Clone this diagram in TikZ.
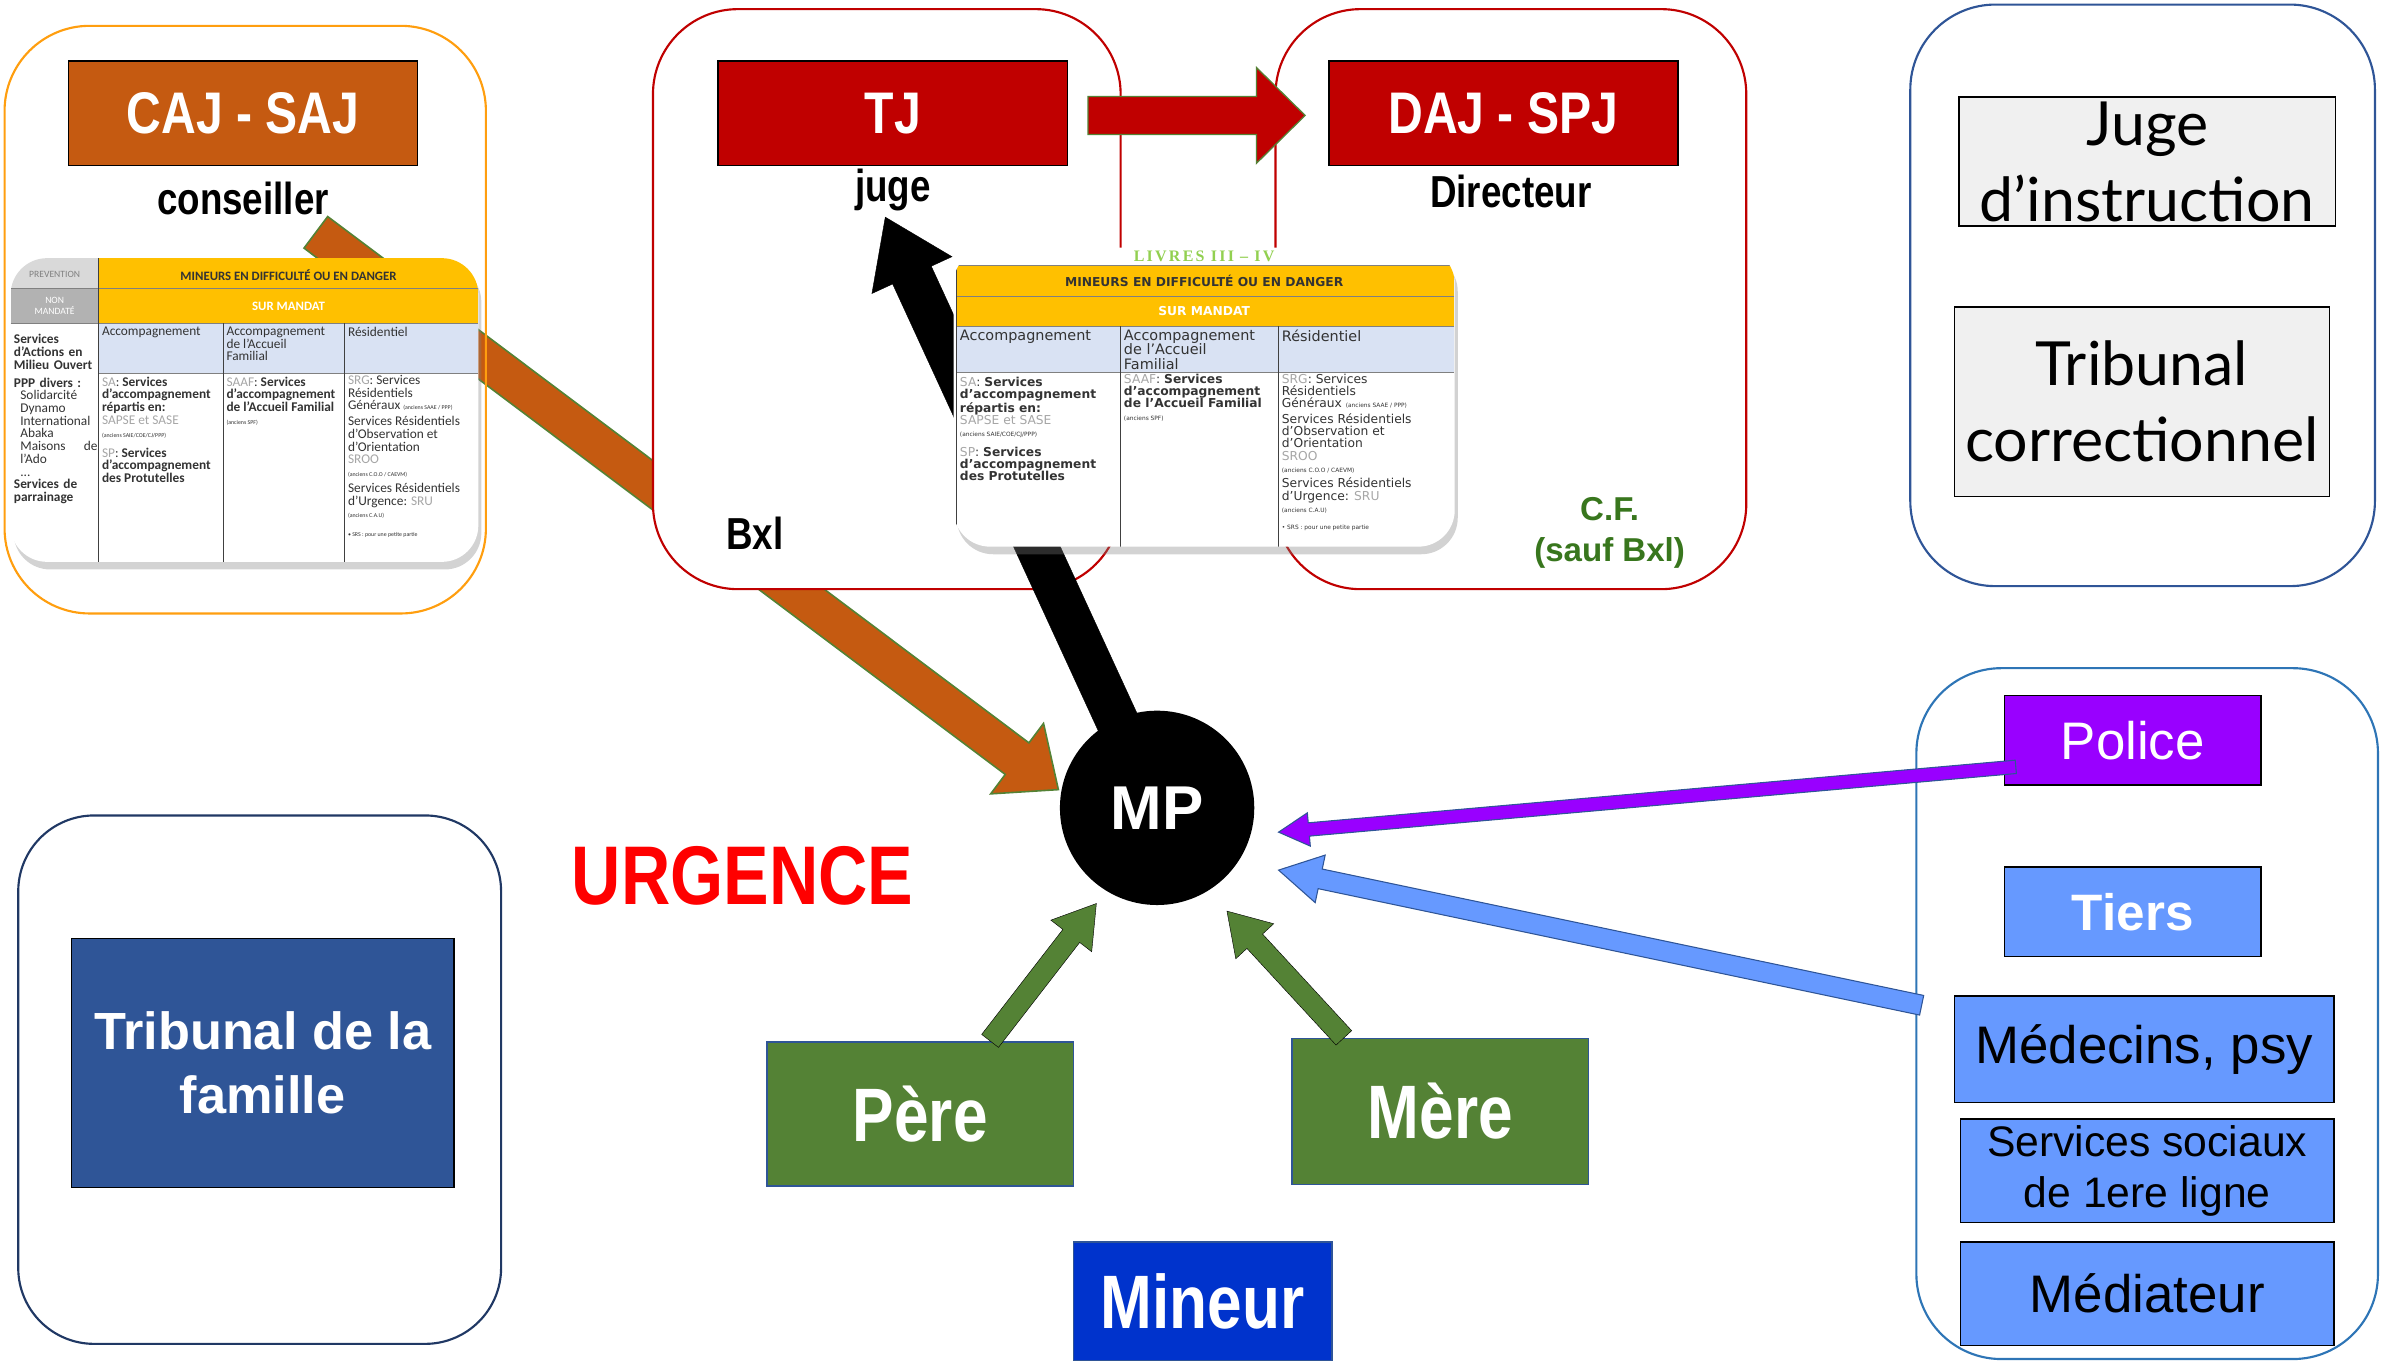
\documentclass[tikz,border=0pt]{standalone}
\usepackage{fontspec}
\setmainfont{Liberation Sans}
\newfontfamily\narrowfont[FakeStretch=0.82]{Liberation Sans}
\newfontfamily\gillfont{Lato}
\newfontfamily\tabfont{Carlito}
\newfontfamily\tabwidefont{DejaVu Sans}
\newfontfamily\livresfont[LetterSpace=14]{Liberation Serif}
\usetikzlibrary{calc,positioning,shadows}
\hyphenpenalty=10000

\definecolor{cajbrown}{HTML}{C55A11}
\definecolor{cajline}{HTML}{FF9E0F}
\definecolor{tjred}{HTML}{C00000}
\definecolor{arrowgreen}{HTML}{548235}
\definecolor{cfgreen}{HTML}{38761D}
\definecolor{navy}{HTML}{2F5597}
\definecolor{darknavy}{HTML}{203864}
\definecolor{skyline}{HTML}{2E75B6}
\definecolor{tiersblue}{HTML}{6699FF}
\definecolor{policeviolet}{HTML}{9900FF}
\definecolor{mineurblue}{HTML}{0033CC}
\definecolor{boxgray}{HTML}{F0F0F0}
\definecolor{urgred}{HTML}{FF0000}
\definecolor{tabyellow}{HTML}{FFC000}
\definecolor{tabblue}{HTML}{D9E2F3}
\definecolor{tabtext}{HTML}{333333}
\definecolor{labgray}{HTML}{A6A6A6}
\definecolor{livresgreen}{HTML}{92D050}

% block arrow: style, from, to, half shaft, half head, head length
\newcommand\fatarrow[6]{%
  \coordinate (hb) at ($(#3)!#6!(#2)$);
  \draw[#1] ($(#2)!#4!90:(#3)$) -- ($(hb)!#4!-90:(#2)$) -- ($(hb)!#5!-90:(#2)$)
    -- (#3) -- ($(hb)!#5!90:(#2)$) -- ($(hb)!#4!90:(#2)$) -- ($(#2)!#4!-90:(#3)$) -- cycle;}

% table columns, shared by both tables
\newcommand\labgr[1]{{\color{labgray}#1}}
\newcommand\tabsmall{\fontsize{5.5}{7}\selectfont}
\newcommand\colsa{\labgr{SA}: \textbf{Services}\\\textbf{d’accompagnement}\\\textbf{répartis en:}\\\labgr{SAPSE et SASE}\\{\tabsmall(anciens SAIE/COE/CJ/PPP)}\\[7pt]\labgr{SP}: \textbf{Services}\\\textbf{d’accompagnement}\\\textbf{des Protutelles}}
\newcommand\colsaaf{\labgr{SAAF}: \textbf{Services}\\\textbf{d’accompagnement}\\\textbf{de l’Accueil Familial}\\{\tabsmall(anciens SPF)}}
\newcommand\colres{\labgr{SRG}: Services\\Résidentiels\\Généraux {\tabsmall(anciens SAAE / PPP)}\\[3pt]Services Résidentiels\\d’Observation et\\d’Orientation\\\labgr{SROO}\\{\tabsmall(anciens C.O.O / CAEVM)}\\[3pt]Services Résidentiels\\d’Urgence: \labgr{SRU}\\{\tabsmall(anciens C.A.U)}\\[5pt]{\tabsmall • SRS : pour une petite partie}}

\begin{document}
\begin{tikzpicture}[x=0.05cm, y=-0.05cm,
  zone/.style={draw, line width=2pt, rounded corners=2.8cm, inner sep=0pt},
  titlebox/.style={draw=black, line width=1.5pt, inner sep=0pt, minimum width=11.5cm, minimum height=3.45cm,
    text=white, font=\narrowfont\bfseries\fontsize{55}{60}\selectfont},
  role/.style={font=\narrowfont\bfseries\fontsize{42}{46}\selectfont},
  greybox/.style={draw=black, line width=1.5pt, fill=boxgray, inner sep=0pt, align=center,
    font=\gillfont\fontsize{57}{71}\selectfont},
  signal/.style={draw=black, line width=1.5pt, fill=tiersblue, inner sep=0pt, align=center,
    font=\fontsize{49.5}{56}\selectfont},
  parent/.style={draw=navy, line width=1.5pt, fill=arrowgreen, inner sep=0pt, text=white,
    font=\narrowfont\bfseries\fontsize{71}{75}\selectfont},
  tabshadow/.style={fill=white, rounded corners=1.2cm, inner sep=0pt,
    drop shadow={opacity=0.35, shadow xshift=0.1cm, shadow yshift=-0.25cm}},
  tabhead/.style={inner sep=0pt, align=center, text=tabtext, font=\tabfont\bfseries\fontsize{12}{13}\selectfont},
  lcell/.style={anchor=north west, inner sep=1.5pt, align=left, text=tabtext,
    font=\tabfont\fontsize{12.5}{11.9}\selectfont},
  rcell/.style={anchor=north west, inner sep=1.5pt, align=left, text=tabtext,
    font=\tabwidefont\fontsize{11.5}{11.5}\selectfont}]
  \useasboundingbox (0,0) rectangle (1568,897);
  \coordinate (mpc) at (762,532);

  % CAJ arrow runs under the zones
  \coordinate (cajtail) at (208,153);
  \coordinate (cajtip) at ($(mpc)+(-65,-12)$);
  \fatarrow{fill=cajbrown, draw=arrowgreen, line width=1.5pt}{cajtail}{cajtip}{0.65cm}{1.45cm}{1.7cm}
  \node[zone, draw=cajline, minimum width=15.85cm, minimum height=19.35cm] (cajzone) at (161.5,210.5) {};

  % left table
  \node[tabshadow, minimum width=15.4cm, minimum height=10cm] (tabl) at (161,270) {};
  \begin{scope}
    \clip[rounded corners=1.2cm] (7,170) rectangle (315,370);
    \fill[gray!30] (7,170) rectangle (65,190);
    \fill[gray!60] (7,190) rectangle (65,213);
    \fill[tabyellow] (65,170) rectangle (315,213);
    \fill[tabblue] (65,213) rectangle (315,246);
    \draw[gray, line width=0.6pt] (7,190) -- (315,190) (7,213) -- (315,213) (65,246) -- (315,246);
    \draw[darkgray, line width=0.8pt] (65,170) -- (65,370) (147,213) -- (147,370) (227,213) -- (227,370);
    \node[tabhead, text=gray, font=\tabfont\fontsize{9}{10}\selectfont] (lprev) at (36,181) {PREVENTION};
    \node[tabhead, text=white, font=\tabfont\fontsize{9}{10}\selectfont] (lnon) at (36,201.5) {NON\\MANDATÉ};
    \node[tabhead] (lmin) at (190,181) {MINEURS EN DIFFICULTÉ OU EN DANGER};
    \node[tabhead, text=white] (lsur) at (190,201.5) {SUR MANDAT};
    \node[lcell] (lacc) at (66,214) {Accompagnement};
    \node[lcell] (laaf) at (148,214) {Accompagnement\\de l’Accueil\\Familial};
    \node[lcell] (lres) at (228,214) {Résidentiel};
    \node[lcell, text width=2.75cm] (lamo) at (8,219) {\textbf{Services}\\\textbf{d’Actions en}\\\textbf{Milieu Ouvert}\\[5pt]
      \textbf{PPP divers :}\\\hspace*{6pt}Solidarcité\\\hspace*{6pt}Dynamo\\\hspace*{6pt}International\\
      \hspace*{6pt}Abaka\\\hspace*{6pt}Maisons\hfill de\\\hspace*{6pt}l’Ado\\\hspace*{6pt}...\\
      \textbf{Services de}\\\textbf{parrainage}};
    \node[lcell] (lsa) at (66,247) {\colsa};
    \node[lcell] (lsaaf) at (148,247) {\colsaaf};
    \node[lcell] (lsrg) at (228,246) {\colres};
  \end{scope}

  % zones
  \node[zone, draw=darknavy, rounded corners=2.5cm, minimum width=15.9cm, minimum height=17.4cm] (famzone) at (171,711) {};
  \node[zone, draw=tjred, fill=white, minimum width=15.4cm, minimum height=19.1cm] (bxlzone) at (584,197) {};
  \node[zone, draw=tjred, fill=white, minimum width=15.5cm, minimum height=19.1cm] (cfzone) at (995,197) {};
  \node[zone, draw=navy, minimum width=15.3cm, minimum height=19.15cm] (judzone) at (1411,194.5) {};
  \node[zone, draw=skyline, minimum width=15.2cm, minimum height=22.75cm] (signalzone) at (1414,667.5) {};

  \node[titlebox, fill=cajbrown] (caj) at (160,74.5) {CAJ - SAJ};
  \node[role] (conseiller) at (160,131) {conseiller};
  \node[titlebox, fill=tjred] (tj) at (588,74.5) {TJ};
  \node[role] (juge) at (588,125) {juge};
  \node[titlebox, fill=tjred] (daj) at (990,74.5) {DAJ - SPJ};
  \node[role] (directeur) at (995,126) {Directeur};
  \node[role] (bxl) at (497,351) {Bxl};
  \node[text=cfgreen, align=center, font=\bfseries\fontsize{31}{38}\selectfont] (cf) at (1060,351) {C.F.\\(sauf Bxl)};

  \coordinate (tjtail) at ($(tj.east)+(13,1.5)$);
  \coordinate (tjtip) at ($(daj.west)+(-15,1.5)$);
  \fatarrow{fill=tjred, draw=arrowgreen, line width=1.2pt}{tjtail}{tjtip}{0.625cm}{1.575cm}{1.6cm}

  \coordinate (jugetip) at (583,143);
  \fatarrow{fill=black}{mpc}{jugetip}{0.7cm}{1.45cm}{2.1cm}

  % right table
  \node[tabshadow, minimum width=16.5cm, minimum height=9.85cm] (tabr) at (793,261.5) {};
  \begin{scope}
    \clip[rounded corners=1.2cm] (628,163) rectangle (958,360);
    \fill[tabyellow] (630,175) rectangle (958,215);
    \fill[tabblue] (630,215) rectangle (958,245);
    \draw[gray, line width=0.6pt] (630,175) -- (958,175) (630,195) -- (958,195) (630,215) -- (958,215) (630,245) -- (958,245);
    \draw[darkgray, line width=0.8pt] (630,175) -- (630,360) (738,215) -- (738,360) (842,215) -- (842,360);
    \node[text=livresgreen, font=\livresfont\bfseries\fontsize{15}{16}\selectfont] (livres) at (793,169) {LIVRES III – IV};
    \node[tabhead, font=\tabwidefont\bfseries\fontsize{11.5}{12}\selectfont] (rmin) at (793,185) {MINEURS EN DIFFICULTÉ OU EN DANGER};
    \node[tabhead, text=white, font=\tabwidefont\bfseries\fontsize{11.5}{12}\selectfont] (rsur) at (793,205) {SUR MANDAT};
    \node[rcell, font=\tabwidefont\fontsize{13.5}{13.5}\selectfont] (racc) at (631,216) {Accompagnement};
    \node[rcell, font=\tabwidefont\fontsize{13.5}{13.5}\selectfont] (raaf) at (739,216) {Accompagnement\\de l’Accueil\\Familial};
    \node[rcell, font=\tabwidefont\fontsize{13.5}{13.5}\selectfont] (rres) at (843,216) {Résidentiel};
    \node[rcell] (rsa) at (631,247) {\colsa};
    \node[rcell] (rsaaf) at (739,245) {\colsaaf};
    \node[rcell] (rsrg) at (843,245) {\colres};
  \end{scope}

  \node[circle, fill=black, minimum size=6.4cm, inner sep=0pt, text=white,
    font=\bfseries\fontsize{58}{60}\selectfont] (mp) at (mpc) {MP};
  \node[text=urgred, font=\narrowfont\bfseries\fontsize{78}{80}\selectfont] (urgence) at (489,577) {URGENCE};

  \node[draw=black, line width=1.5pt, fill=navy, minimum width=12.6cm, minimum height=8.2cm, inner sep=0pt,
    text=white, align=center, font=\bfseries\fontsize{49}{60}\selectfont] (tfam) at (173,700) {Tribunal de la\\famille};

  \node[parent, minimum width=10.1cm, minimum height=4.75cm] (pere) at (606,733.5) {Père};
  \node[parent, minimum width=9.75cm, minimum height=4.8cm] (mere) at (948.5,732) {Mère};
  \node[parent, fill=mineurblue, minimum width=8.5cm, minimum height=3.9cm] (mineur) at (792,857) {Mineur};

  \node[greybox, minimum width=12.4cm, minimum height=4.25cm] (jugeinstr) at (1414,106.5) {Juge\\d’instruction};
  \node[greybox, minimum width=12.35cm, minimum height=6.25cm] (tcorr) at (1410.5,264.5) {Tribunal\\correctionnel};

  \node[signal, fill=policeviolet, text=white, minimum width=8.45cm, minimum height=2.95cm] (police) at (1404.5,487.5) {Police};
  \node[signal, text=white, font=\bfseries\fontsize{48}{52}\selectfont, minimum width=8.45cm, minimum height=2.95cm] (tiers) at (1404.5,600.5) {Tiers};
  \node[signal, minimum width=12.5cm, minimum height=3.5cm] (medecins) at (1412,691) {Médecins, psy};
  \node[signal, minimum width=12.3cm, minimum height=3.4cm, font=\fontsize{40}{48}\selectfont] (sociaux) at (1414,771) {Services sociaux\\de 1ere ligne};
  \node[signal, minimum width=12.3cm, minimum height=3.4cm] (mediateur) at (1414,852) {Médiateur};

  % arrows into MP
  \coordinate (policetail) at ($(police.west)+(8,17.5)$);
  \coordinate (policetip) at ($(mpc)+(80,16)$);
  \fatarrow{fill=policeviolet, draw=navy, line width=1pt}{policetail}{policetip}{0.22cm}{0.55cm}{1cm}
  \coordinate (medtail) at ($(medecins.west)+(-21,-29)$);
  \coordinate (medtip) at ($(mpc)+(80,41)$);
  \fatarrow{fill=tiersblue, draw=navy, line width=1pt}{medtail}{medtip}{0.33cm}{0.8cm}{1.4cm}
  \coordinate (peretail) at ($(pere.north)+(46,0)$);
  \coordinate (peretip) at ($(mpc)+(-40,63)$);
  \fatarrow{fill=arrowgreen}{peretail}{peretip}{0.35cm}{0.85cm}{1.35cm}
  \coordinate (meretail) at ($(mere.north)+(-63.5,0)$);
  \coordinate (meretip) at ($(mpc)+(46,68)$);
  \fatarrow{fill=arrowgreen}{meretail}{meretip}{0.35cm}{0.85cm}{1.35cm}
\end{tikzpicture}
\end{document}
